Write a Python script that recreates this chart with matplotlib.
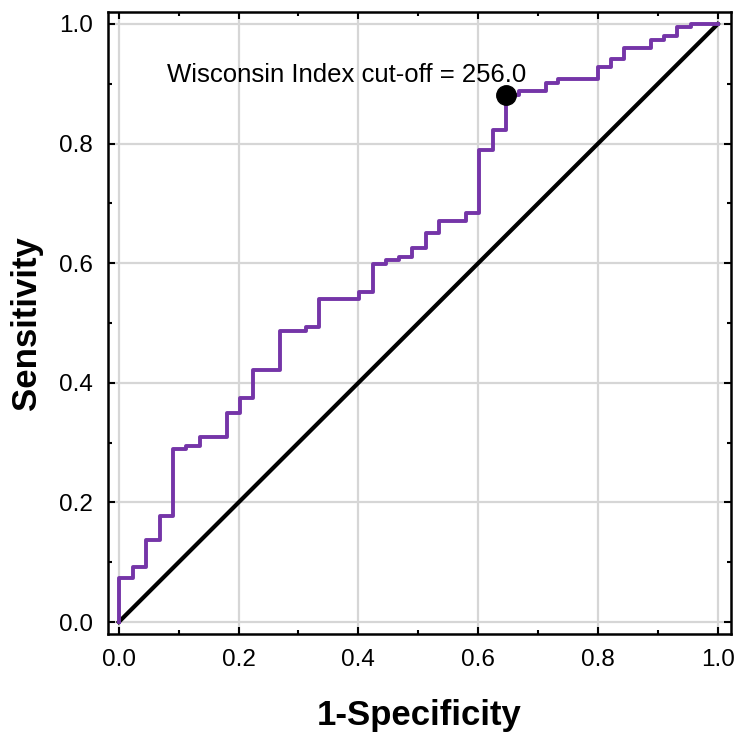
import matplotlib
matplotlib.use('Agg')
import matplotlib.pyplot as plt
from matplotlib.ticker import MultipleLocator, FormatStrFormatter

plt.rcParams['font.family'] = ['Liberation Sans', 'DejaVu Sans']

# ROC curve (step points: horizontal then up)
fpr = [0.0, 0.0, 0.024, 0.046, 0.068, 0.091, 0.113, 0.135, 0.180, 0.202, 0.224,
       0.269, 0.312, 0.334, 0.401, 0.424, 0.446, 0.468, 0.490, 0.513, 0.535,
       0.579, 0.602, 0.624, 0.646, 0.668, 0.713, 0.734, 0.800, 0.822, 0.843,
       0.888, 0.910, 0.932, 0.956, 1.0]
tpr = [0.0, 0.074, 0.092, 0.138, 0.178, 0.289, 0.295, 0.309, 0.349, 0.374, 0.421,
       0.487, 0.494, 0.540, 0.552, 0.599, 0.605, 0.611, 0.625, 0.651, 0.671,
       0.684, 0.789, 0.823, 0.881, 0.888, 0.901, 0.908, 0.928, 0.941, 0.959,
       0.973, 0.980, 0.995, 1.0, 1.0]

cutoff_fpr = 0.646
cutoff_tpr = 0.881
cutoff_label = 'Wisconsin Index cut-off = 256.0'

fig = plt.figure(figsize=(7.47, 7.43), dpi=100)
ax = fig.add_axes([108 / 747, 109 / 743, 623 / 747, 622 / 743])

ax.plot([0, 1], [0, 1], color='black', lw=3.0, zorder=3)
ax.step(fpr, tpr, where='post', color='#7535a8', lw=2.8, zorder=4)
ax.plot(cutoff_fpr, cutoff_tpr, 'o', color='black', ms=14, zorder=5)
ax.text(0.080, 0.903, cutoff_label, fontsize=18.5, ha='left', va='baseline')

ax.set_xlim(-0.018, 1.022)
ax.set_ylim(-0.02, 1.02)
ax.xaxis.set_major_locator(MultipleLocator(0.2))
ax.xaxis.set_minor_locator(MultipleLocator(0.1))
ax.yaxis.set_major_locator(MultipleLocator(0.2))
ax.yaxis.set_minor_locator(MultipleLocator(0.1))
ax.xaxis.set_major_formatter(FormatStrFormatter('%.1f'))
ax.yaxis.set_major_formatter(FormatStrFormatter('%.1f'))

ax.grid(True, which='major', color='#d6d6d6', lw=1.6, zorder=0)
ax.set_axisbelow(True)
ax.tick_params(which='both', direction='in', top=True, right=True, width=1.5, colors='black')
ax.tick_params(which='major', length=5, labelsize=17.5, pad=11)
ax.tick_params(which='minor', length=3)
for s in ax.spines.values():
    s.set_linewidth(1.8)

ax.set_xlabel('1-Specificity', fontsize=25, fontweight='bold', labelpad=20)
ax.set_ylabel('Sensitivity', fontsize=25, fontweight='bold', labelpad=11)

fig.savefig('out.png', dpi=100)
